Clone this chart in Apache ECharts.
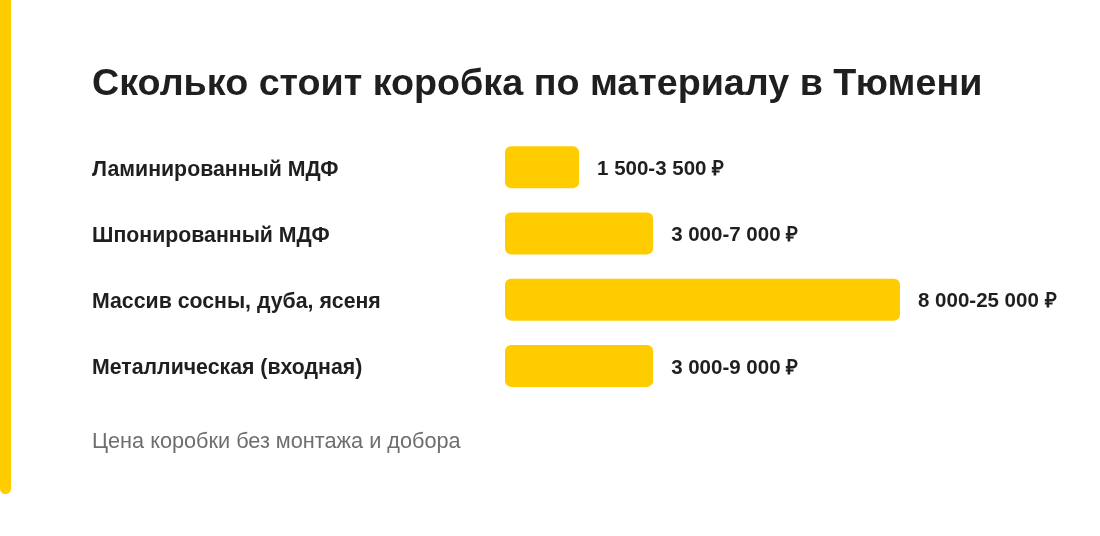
<!DOCTYPE html>
<html>
<head>
<meta charset="utf-8">
<style>
html,body{margin:0;padding:0;background:#fff;}
#chart{width:1100px;height:536px;}
</style>
<script src="https://cdn.jsdelivr.net/npm/echarts@6/dist/echarts.min.js"></script>
</head>
<body>
<div id="chart"></div>
<script>
const titleText = 'Сколько стоит коробка по материалу в Тюмени';
const footnote = 'Цена коробки без монтажа и добора';
const categories = ['Ламинированный МДФ', 'Шпонированный МДФ', 'Массив сосны, дуба, ясеня', 'Металлическая (входная)'];
const priceMin = [1500, 3000, 8000, 3000];
const priceMax = [3500, 7000, 25000, 9000];

const FONT = '"Liberation Sans", Arial, Helvetica, sans-serif';
function fmt(n) { return String(n).replace(/\B(?=(\d{3})+(?!\d))/g, ' '); }

const chart = echarts.init(document.getElementById('chart'), null, {renderer: 'canvas'});
chart.setOption({
  backgroundColor: '#ffffff',
  animation: false,
  title: [
    {
      text: titleText, left: 92, top: 66, padding: 0,
      textStyle: {fontFamily: FONT, fontSize: 37.7, fontWeight: 'bold', color: '#1f1f1f'}
    },
    {
      text: footnote, left: 92, top: 431, padding: 0,
      textStyle: {fontFamily: FONT, fontSize: 21.7, fontWeight: 'normal', color: '#6e6e6e'}
    }
  ],
  graphic: [
    {type: 'rect', left: 0, top: -10, shape: {x: 0, y: 0, width: 11, height: 504, r: 5.5}, style: {fill: '#FFCC00'}}
  ],
  grid: {left: 505, top: 134, width: 395, height: 265, containLabel: false},
  xAxis: {
    type: 'value', min: 0, max: 8000,
    show: false
  },
  yAxis: {
    type: 'category', data: categories, inverse: true,
    axisLine: {show: false}, axisTick: {show: false}, splitLine: {show: false},
    axisLabel: {
      align: 'left', margin: 413,
      formatter: v => '{a|' + v + '}',
      rich: {
        a: {padding: [5, 0, 0, 0], fontFamily: FONT, fontSize: 21.3, fontWeight: 'bold', color: '#1f1f1f'}
      },
      fontFamily: FONT, fontSize: 21.3, fontWeight: 'bold', color: '#1f1f1f'
    }
  },
  series: [{
    type: 'bar',
    data: priceMin,
    barWidth: 42,
    itemStyle: {color: '#FFCC00', borderRadius: 6},
    label: {
      show: true, position: 'right', distance: 18, offset: [0, 2],
      fontFamily: FONT, fontSize: 20.5, fontWeight: 'bold', color: '#1f1f1f',
      formatter: p => fmt(priceMin[p.dataIndex]) + '-' + fmt(priceMax[p.dataIndex]) + ' ₽'
    }
  }]
});
</script>
</body>
</html>
